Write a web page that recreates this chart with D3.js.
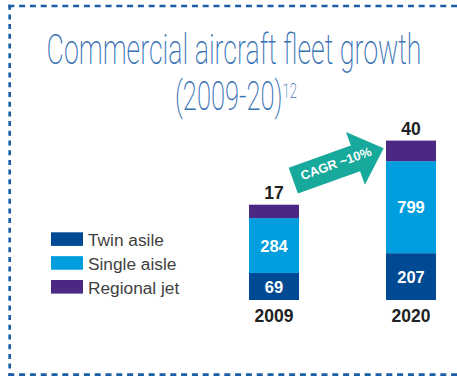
<!DOCTYPE html>
<html>
<head>
<meta charset="utf-8">
<script src="https://cdn.jsdelivr.net/npm/d3@7"></script>
<style>
  html, body { margin: 0; padding: 0; background: #fff; }
  svg { display: block; }
</style>
</head>
<body>
<script>
// Fleet size by aircraft type
const years = ["2009", "2020"];
const series = ["Twin asile", "Single aisle", "Regional jet"];
const twinAisle = [69, 207];
const singleAisle = [284, 799];
const regionalJet = [17, 40];
const cagrLabel = "CAGR ~10%";
const titleLine1 = "Commercial aircraft fleet growth";
const titleLine2 = "(2009-20)";
const titleNote = "12";

const colors = {
  "Twin asile": "#004a93",
  "Single aisle": "#009ede",
  "Regional jet": "#4b2884"
};

const W = 457, H = 376;
const svg = d3.select("body").append("svg").attr("width", W).attr("height", H);

// dashed frame (left, top, bottom)
const frame = "#1b5da6";
const frameG = svg.append("g").attr("stroke", frame).attr("stroke-width", 2.7).attr("fill", "none");
frameG.append("line").attr("x1", 9.7).attr("x2", 9.7).attr("y1", 4.7).attr("y2", 376)
  .attr("stroke-dasharray", "5 4.7");
frameG.append("line").attr("x1", 8.3).attr("x2", W).attr("y1", 6).attr("y2", 6)
  .attr("stroke-dasharray", "6 4.8");
frameG.append("line").attr("x1", 8.3).attr("x2", W).attr("y1", 374.7).attr("y2", 374.7)
  .attr("stroke-dasharray", "6 4.8");

// title, thin face squeezed to a condensed width
const titleColor = "#3671b5";
const titleFont = "Roboto, 'Liberation Sans', sans-serif";
const t1 = svg.append("text")
  .attr("font-family", titleFont)
  .attr("font-weight", 200)
  .attr("font-size", 43)
  .attr("fill", titleColor)
  .attr("text-anchor", "middle")
  .text(titleLine1);
const w1 = t1.node().getComputedTextLength();
const sx = 375 / w1;
t1.attr("transform", `translate(234,64) scale(${sx},1)`);

const t2 = svg.append("text")
  .attr("font-family", titleFont)
  .attr("font-weight", 200)
  .attr("font-size", 41)
  .attr("fill", titleColor)
  .attr("text-anchor", "middle");
t2.append("tspan").text(titleLine2);
t2.append("tspan").attr("font-size", 21).attr("dy", -12).text(titleNote);
t2.attr("transform", `translate(236,110) scale(${sx},1)`);

// bars: segment heights on a square-root scale, stacked from the baseline
const baseY = 300;
const barW = 50;
const x = d3.scalePoint().domain(years).range([274, 411]);
const h = d3.scaleSqrt().domain([0, 799]).range([0, 92]);

const stacks = years.map((yr, i) => {
  const vals = [twinAisle[i], singleAisle[i], regionalJet[i]];
  let y0 = baseY;
  const segs = vals.map((v, j) => {
    const hh = h(v);
    const seg = { year: yr, key: series[j], value: v, y: y0 - hh, height: hh };
    y0 -= hh;
    return seg;
  });
  return { year: yr, segs, top: y0 };
});

const font = "'Liberation Sans', Arial, Helvetica, sans-serif";

const barG = svg.append("g");
stacks.forEach(st => {
  const g = barG.append("g");
  g.selectAll("rect").data(st.segs).join("rect")
    .attr("x", x(st.year) - barW / 2)
    .attr("width", barW)
    .attr("y", d => d.y)
    .attr("height", d => d.height)
    .attr("fill", d => colors[d.key]);

  // values inside the lower two segments
  g.selectAll("text.inside").data(st.segs.slice(0, 2)).join("text")
    .attr("class", "inside")
    .attr("x", x(st.year))
    .attr("y", d => d.y + d.height / 2 + 6.3)
    .attr("text-anchor", "middle")
    .attr("font-family", font)
    .attr("font-weight", "bold")
    .attr("font-size", 16.5)
    .attr("fill", "#fff")
    .text(d => d.value);

  // regional jet value above the bar
  const topSeg = st.segs[2];
  g.append("text")
    .attr("x", x(st.year))
    .attr("y", st.top - 5.5)
    .attr("text-anchor", "middle")
    .attr("font-family", font)
    .attr("font-weight", "bold")
    .attr("font-size", 17.5)
    .attr("fill", "#222")
    .text(topSeg.value);

  // year label below
  g.append("text")
    .attr("x", x(st.year))
    .attr("y", 321.7)
    .attr("text-anchor", "middle")
    .attr("font-family", font)
    .attr("font-weight", "bold")
    .attr("font-size", 17.5)
    .attr("fill", "#222")
    .text(st.year);
});

// growth arrow between the bars
const arrow = svg.append("g").attr("transform", "translate(293.3,180.7) rotate(-19.7)");
arrow.append("path")
  .attr("d", "M0,-13.7 L66,-13.7 L66,-28 L96,0 L66,28 L66,13.7 L0,13.7 Z")
  .attr("fill", "#17a99b");
arrow.append("text")
  .attr("x", 46)
  .attr("y", 2.6)
  .attr("text-anchor", "middle")
  .attr("font-family", font)
  .attr("font-weight", "bold")
  .attr("font-size", 12.8)
  .attr("fill", "#fff")
  .text(cagrLabel);

// legend
const legend = svg.append("g");
const ly = d3.scalePoint().domain(series).range([232.3, 280]);
series.forEach(s => {
  legend.append("rect")
    .attr("x", 51).attr("y", ly(s))
    .attr("width", 32).attr("height", 13.6)
    .attr("fill", colors[s]);
  legend.append("text")
    .attr("x", 88).attr("y", ly(s) + 13.5)
    .attr("font-family", font)
    .attr("font-size", 17.3)
    .attr("fill", "#3f3f3f")
    .text(s);
});
</script>
</body>
</html>
